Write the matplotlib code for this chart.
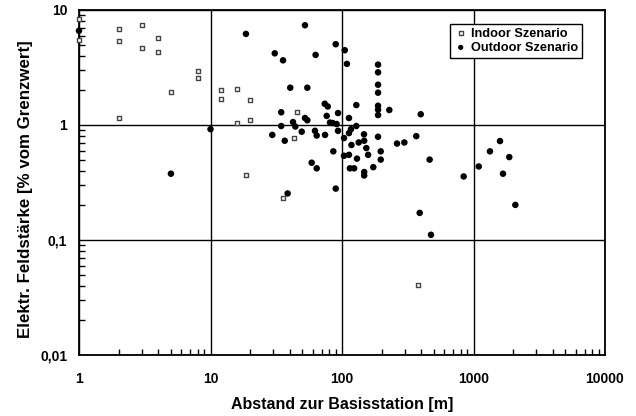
import matplotlib
matplotlib.use("Agg")
import matplotlib.pyplot as plt
from matplotlib.ticker import FixedLocator, FixedFormatter, LogLocator, NullFormatter

plt.rcParams['font.family'] = ['Liberation Sans', 'DejaVu Sans']
plt.rcParams['font.weight'] = 'bold'

indoor_x = [1, 1, 2, 2, 2, 3, 3, 4, 4, 5, 8, 8, 12, 12, 16, 16, 20, 20, 18.6, 45.5, 43.5, 35.6, 376]
indoor_y = [8.4, 5.5, 6.9, 5.35, 1.15, 7.4, 4.7, 5.7, 4.3, 1.95, 2.95, 2.55, 2.0, 1.68, 2.07, 1.05, 1.66, 1.1, 0.364, 1.31, 0.775, 0.233, 0.041]

outdoor_x = [1, 5, 10, 18.6, 52.3, 30.8, 35.6, 63, 89.6, 105, 109,
             188, 188, 188, 188, 188, 188, 188, 229, 397,
             40.4, 54.5, 34.5, 73.9, 77.9, 128.5, 93.3, 76.5, 52.3, 54.5, 42.4,
             81, 85, 91, 113, 34.5, 44.2, 128.5, 29.5, 36.7, 49.4, 62.3, 64.2, 74.3,
             93.3, 103.6, 113, 117, 147, 147.5, 134, 118, 188, 153, 197, 158, 197,
             85.9, 103.6, 113, 130, 58.8, 64.2, 114.8, 123.6, 147.5, 147.5, 173,
             262, 298, 367, 464, 89.6, 38.6, 390, 475,
             842, 1096, 1334, 1591, 1871, 1676, 2080]
outdoor_y = [6.6, 0.377, 0.92, 6.2, 7.37, 4.2, 3.65, 4.07, 5.04, 4.47, 3.4,
             3.35, 2.87, 2.24, 1.91, 1.47, 1.36, 1.22, 1.35, 1.24,
             2.11, 2.11, 1.29, 1.53, 1.45, 1.49, 1.27, 1.2, 1.15, 1.10, 1.06,
             1.05, 1.04, 1.02, 1.15, 0.98, 0.97, 0.98, 0.82, 0.73, 0.875, 0.89, 0.81, 0.82,
             0.89, 0.77, 0.85, 0.92, 0.83, 0.73, 0.705, 0.67, 0.79, 0.63, 0.59, 0.55, 0.50,
             0.59, 0.54, 0.55, 0.51, 0.47, 0.42, 0.42, 0.42, 0.39, 0.364, 0.43,
             0.69, 0.705, 0.80, 0.50, 0.28, 0.254, 0.172, 0.111,
             0.357, 0.436, 0.59, 0.725, 0.526, 0.377, 0.202]

x_ticks = [1, 10, 100, 1000, 10000]
x_ticklabels = ["1", "10", "100", "1000", "10000"]
y_ticks = [0.01, 0.1, 1, 10]
y_ticklabels = ["0,01", "0,1", "1", "10"]

fig = plt.figure(figsize=(6.36, 4.16), dpi=100)
ax = fig.add_axes([79/636, 1-355/416, (605-79)/636, (355-10)/416])
ax.set_xscale('log')
ax.set_yscale('log')
ax.set_xlim(1, 10000)
ax.set_ylim(0.01, 10)

ax.grid(True, which='major', color='black', lw=1.0)
ax.set_axisbelow(True)

ax.scatter(indoor_x, indoor_y, marker='s', s=9, facecolor='white', edgecolor='#444444',
           linewidths=1.0, label='Indoor Szenario', zorder=3, clip_on=False)
ax.scatter(outdoor_x, outdoor_y, marker='o', s=22, facecolor='black', edgecolor='none',
           label='Outdoor Szenario', zorder=4, clip_on=False)

ax.xaxis.set_major_locator(FixedLocator(x_ticks))
ax.xaxis.set_major_formatter(FixedFormatter(x_ticklabels))
ax.yaxis.set_major_locator(FixedLocator(y_ticks))
ax.yaxis.set_major_formatter(FixedFormatter(y_ticklabels))
ax.xaxis.set_minor_locator(LogLocator(base=10, subs=range(2, 10)))
ax.yaxis.set_minor_locator(LogLocator(base=10, subs=range(2, 10)))
ax.xaxis.set_minor_formatter(NullFormatter())
ax.yaxis.set_minor_formatter(NullFormatter())
ax.tick_params(which='both', direction='in', length=4, width=1, labelsize=10)
ax.tick_params(which='major', length=0)
ax.tick_params(axis='x', which='major', pad=12)
ax.tick_params(axis='y', which='major', pad=8.5)
for lab in ax.get_xticklabels() + ax.get_yticklabels():
    lab.set_fontweight('bold')

for sp in ax.spines.values():
    sp.set_linewidth(1.3)
    sp.set_color('black')

ax.set_xlabel('Abstand zur Basisstation [m]', fontsize=11.5, fontweight='bold', labelpad=8)
ax.set_ylabel('Elektr. Feldstärke [% vom Grenzwert]', fontsize=12.2, fontweight='bold')
ax.yaxis.set_label_coords((33 - 79) / 526, (355 - 189) / 345)

leg = ax.legend(loc='upper right', bbox_to_anchor=(1 - 23/526, 1 - 14/345), fontsize=9.2,
                frameon=True, fancybox=False, edgecolor='black', framealpha=1,
                handletextpad=0.3, borderpad=0.3, labelspacing=0.15, handlelength=1.0,
                borderaxespad=0.0, markerscale=0.8)
leg.get_frame().set_linewidth(1.0)
for t in leg.get_texts():
    t.set_fontweight('bold')

fig.savefig('out.png', dpi=100)
